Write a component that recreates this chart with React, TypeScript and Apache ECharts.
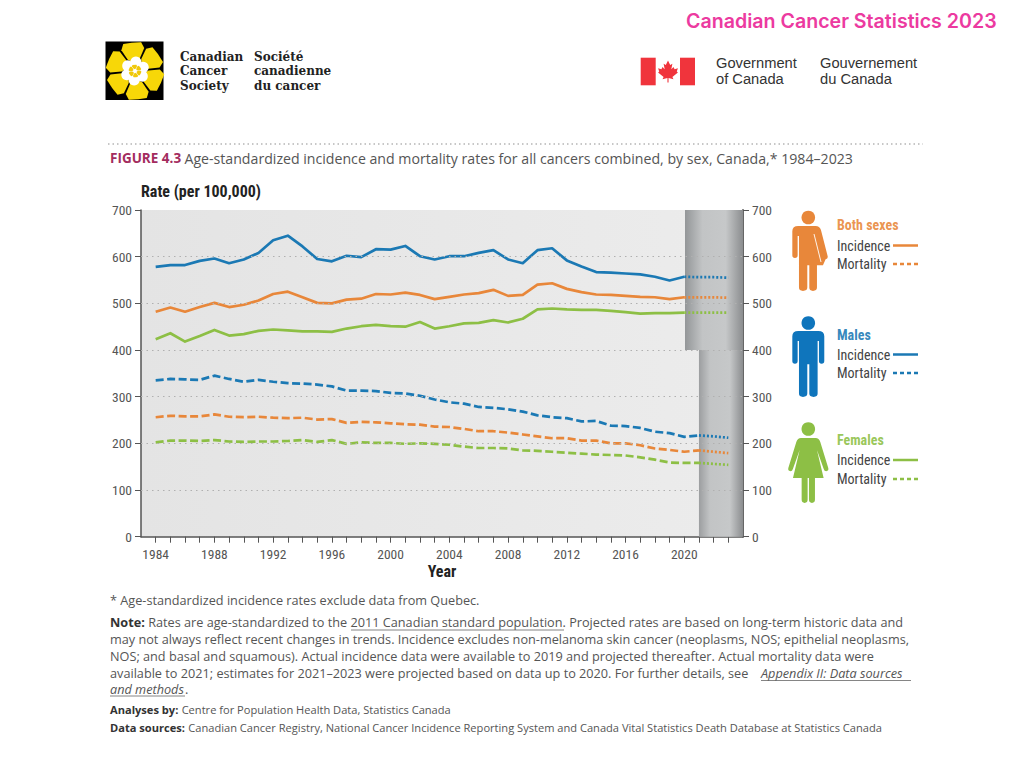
import React, { useEffect, useRef } from "react";
import * as echarts from "echarts";

const years = [1984,1985,1986,1987,1988,1989,1990,1991,1992,1993,1994,1995,1996,1997,1998,1999,2000,2001,2002,2003,2004,2005,2006,2007,2008,2009,2010,2011,2012,2013,2014,2015,2016,2017,2018,2019,2020,2021,2022,2023];
const labelYears = [1984,1988,1992,1996,2000,2004,2008,2012,2016,2020];
const yTicks = [0,100,200,300,400,500,600,700];
const gridValues = [100,200,300,400,500,600];

const bothIncidence = [482,491,482,492,501,492,497,506,520,525,513,501,500,508,510,520,519,523,518,509,514,519,522,529,516,518,540,543,531,524,519,518,516,514,513,509,513,513,513,512];
const maleIncidence = [578,582,582,591,596,586,594,608,635,645,622,595,590,602,599,616,615,623,601,594,601,601,608,614,594,586,614,618,592,579,567,566,564,562,557,549,557,556,556,555];
const femaleIncidence = [423,436,418,430,443,431,434,441,444,442,440,440,439,446,451,454,451,450,460,446,451,457,458,464,459,467,487,489,487,486,486,484,481,478,479,479,480,480,480,480];
const bothMortality = [256,259,258,258,262,257,256,257,255,254,255,251,252,244,246,245,243,241,240,236,235,231,226,226,223,219,215,211,211,206,206,200,200,196,189,186,182,185,182,179];
const maleMortality = [335,338,337,336,345,338,332,336,332,329,328,326,322,313,313,312,308,307,302,294,288,285,278,276,273,268,260,256,254,247,248,238,237,233,225,222,214,217,215,212];
const femaleMortality = [202,206,206,205,207,204,203,204,204,205,207,203,207,199,202,201,201,199,200,199,197,193,190,190,189,185,184,182,180,178,176,175,174,170,165,159,158,158,156,154];

const ORANGE = "#e8873a";
const BLUE = "#1b79b4";
const GREEN = "#8dbf45";
const NARROW = '"Roboto Condensed", "DejaVu Sans Condensed", sans-serif';
const BODY = '"Open Sans", "Noto Sans", sans-serif';
const TXT = "#555555";

const MALE = "M-30 0 H30 Q48 0 48 16 V90 Q48 98 40 98 Q32 98 32 90 V30 H28 V188 Q28 198 16 198 Q3 198 3 188 V100 H-3 V188 Q-3 198 -16 198 Q-28 198 -28 188 V30 H-32 V90 Q-32 98 -40 98 Q-48 98 -48 90 V16 Q-48 0 -30 0 Z";
const FEMALE = "M-22 0 H22 Q32 0 36 12 L60 90 Q62 98 54 100 Q48 100 46 92 L26 36 L46 120 H20 V185 Q20 195 11 195 Q2 195 2 185 V120 H-2 V185 Q-2 195 -11 195 Q-20 195 -20 185 V120 H-46 L-26 36 L-46 92 Q-48 100 -54 100 Q-62 98 -60 90 L-36 12 Q-32 0 -22 0 Z";
const BOTH = "M-30 0 H22 Q34 0 38 12 L58 90 Q60 98 52 100 L44 118 H26 V185 Q26 195 14 195 Q3 195 3 185 V118 H-3 V185 Q-3 195 -16 195 Q-28 195 -28 185 V30 H-32 V88 Q-32 96 -40 96 Q-48 96 -48 88 V16 Q-48 0 -30 0 Z";
const LEAF = "M0 -10 L-2 -6 L-4 -7 L-3 -2 L-5 -4 L-6 -2 L-9 -3 L-8 0 L-9 1 L-4 5 L-5 7 L-0.5 6 L-0.5 10 H0.5 L0.5 6 L5 7 L4 5 L9 1 L8 0 L9 -3 L6 -2 L5 -4 L3 -2 L4 -7 L2 -6 Z";
const PETAL = "M0 -8 L-6 -12 L-11.5 -22 L-9 -28 Q0 -29 9 -28 L11.5 -22 L6 -12 Z";

echarts.graphic.registerShape("maleIcon", echarts.graphic.extendPath(MALE, {}));
echarts.graphic.registerShape("femaleIcon", echarts.graphic.extendPath(FEMALE, {}));
echarts.graphic.registerShape("bothIcon", echarts.graphic.extendPath(BOTH, {}));
echarts.graphic.registerShape("leafIcon", echarts.graphic.extendPath(LEAF, {}));
echarts.graphic.registerShape("petalIcon", echarts.graphic.extendPath(PETAL, {}));

const grad = (stops: [number, string][]) =>
  new echarts.graphic.LinearGradient(0, 0, 1, 0, stops.map(([offset, color]) => ({ offset, color })));

const part = (vals: number[], from: number, to: number) =>
  years.map((y, i) => [y, vals[i]]).filter(([y]) => y >= from && y <= to);

const lineSeries = (name: string, vals: number[], color: string, split: number, dash: number[] | "solid") => [
  {
    name, type: "line", z: 4, symbol: "none", silent: true,
    data: part(vals, 1984, split),
    lineStyle: { color, width: 2.7, type: dash, cap: "butt", join: "round" },
  },
  {
    name: name + " (projected)", type: "line", z: 4, symbol: "none", silent: true,
    data: part(vals, split, 2023),
    lineStyle: { color, width: 2.7, type: [2, 2] },
  },
];

const txt = (text: string, x: number, y: number, extra: any = {}) => ({
  type: "text", silent: true,
  style: { text, x, y, verticalAlign: "middle", fill: TXT, font: `12.7px ${BODY}`, ...extra },
});
const bodyRich = (size: number) => ({
  b: { font: `bold ${size}px ${BODY}`, fill: "#333333" },
  n: { font: `${size}px ${BODY}`, fill: TXT },
});
const seg = (x1: number, y1: number, x2: number, y2: number, stroke: string, lineWidth: number, lineDash?: number[]) => ({
  type: "line", silent: true, shape: { x1, y1, x2, y2 }, style: { stroke, lineWidth, lineDash },
});
const legendBlock = (title: string, color: string, y1: number, y2: number, y3: number) => [
  txt(title, 837, y1, { fill: color, font: `bold 14px ${NARROW}`, opacity: 0.9 }),
  txt("Incidence", 837, y2, { fill: "#444", font: `14px ${NARROW}` }),
  txt("Mortality", 837, y3, { fill: "#444", font: `14px ${NARROW}` }),
  seg(893, y2, 918, y2, color, 2.5),
  seg(893, y3, 918, y3, color, 2.5, [4, 3]),
];
const petalAngles = [0, 1, 2, 3, 4, 5];

const graphics: any[] = [
  txt("Canadian Cancer Statistics 2023", 686, 21, { fill: "#ec3aa0", font: `600 19.6px Inter, ${BODY}` }),
  { type: "rect", silent: true, shape: { x: 105.5, y: 41.5, width: 58, height: 58.5 }, style: { fill: "#000" } },
  ...petalAngles.map((k) => ({
    type: "petalIcon", silent: true, x: 135, y: 71, rotation: (k * Math.PI) / 3 + 0.1, style: { fill: "#f7d708" },
  })),
  ...petalAngles.map((k) => ({
    type: "circle", silent: true,
    shape: { cx: 135 + 9 * Math.sin((k * Math.PI) / 3 + 0.1), cy: 71 - 9 * Math.cos((k * Math.PI) / 3 + 0.1), r: 5.5 },
    style: { fill: "#fff" },
  })),
  { type: "circle", silent: true, shape: { cx: 135, cy: 71, r: 10 }, style: { fill: "#fff" } },
  ...petalAngles.map((k) => ({
    type: "petalIcon", silent: true, x: 135, y: 71, scaleX: 0.22, scaleY: 0.22, rotation: (k * Math.PI) / 3 + 0.1, style: { fill: "#f0c808" },
  })),
  txt("Canadian\nCancer\nSociety", 180, 71, { fill: "#222", font: `bold 12px "DejaVu Serif", serif`, lineHeight: 14.5 }),
  txt("Société\ncanadienne\ndu cancer", 254, 71, { fill: "#222", font: `bold 12px "DejaVu Serif", serif`, lineHeight: 14.5 }),
  { type: "rect", silent: true, shape: { x: 640.7, y: 57.7, width: 15, height: 27.6 }, style: { fill: "#f0343c" } },
  { type: "rect", silent: true, shape: { x: 680, y: 57.7, width: 15, height: 27.6 }, style: { fill: "#f0343c" } },
  { type: "leafIcon", silent: true, x: 668, y: 71.5, scaleX: 1.1, scaleY: 1.1, style: { fill: "#f0343c" } },
  txt("Government\nof Canada", 716, 71, { fill: "#333", font: `14.7px "Liberation Sans", sans-serif`, lineHeight: 16 }),
  txt("Gouvernement\ndu Canada", 820, 71, { fill: "#333", font: `14.7px "Liberation Sans", sans-serif`, lineHeight: 16 }),
  seg(108, 144, 923, 144, "#b5b5b5", 1.5, [1.5, 3]),
  {
    type: "text", silent: true,
    style: {
      text: "{f|FIGURE 4.3} {n|Age-standardized incidence and mortality rates for all cancers combined, by sex, Canada,* 1984–2023}",
      x: 110, y: 158, verticalAlign: "middle",
      rich: {
        f: { font: `bold 13.5px ${BODY}`, fill: "#a32c5e" },
        n: { font: `14.15px ${BODY}`, fill: TXT },
      },
    },
  },
  {
    type: "text", silent: true, x: 722, y: 365, rotation: Math.PI / 2,
    style: { text: "Projected", x: 0, y: 0, align: "center", verticalAlign: "middle", fill: "#f2f2f2", font: `bold 13.5px "Liberation Sans", sans-serif` },
  },
  { type: "circle", silent: true, shape: { cx: 808.3, cy: 217.5, r: 6.8 }, style: { fill: ORANGE } },
  { type: "bothIcon", silent: true, x: 808.3, y: 226, scaleX: 1 / 3, scaleY: 1 / 3, style: { fill: ORANGE } },
  seg(814, 234, 821, 262, "#fff", 0.9),
  { type: "circle", silent: true, shape: { cx: 808.3, cy: 323, r: 6.8 }, style: { fill: "#0f75bc" } },
  { type: "maleIcon", silent: true, x: 808.3, y: 331, scaleX: 1 / 3, scaleY: 1 / 3, style: { fill: "#0f75bc" } },
  { type: "circle", silent: true, shape: { cx: 808.3, cy: 429, r: 6.8 }, style: { fill: GREEN } },
  { type: "femaleIcon", silent: true, x: 808.3, y: 438, scaleX: 1 / 3, scaleY: 1 / 3, style: { fill: GREEN } },
  ...legendBlock("Both sexes", ORANGE, 225, 245.5, 264),
  ...legendBlock("Males", BLUE, 335, 354.5, 373),
  ...legendBlock("Females", GREEN, 440, 460, 479),
  txt("* Age-standardized incidence rates exclude data from Quebec.", 110, 600),
  {
    type: "text", silent: true,
    style: {
      text: "{b|Note:} {n|Rates are age-standardized to the 2011 Canadian standard population. Projected rates are based on long-term historic data and}",
      x: 110, y: 622, verticalAlign: "middle", rich: bodyRich(12.7),
    },
  },
  txt("may not always reflect recent changes in trends. Incidence excludes non-melanoma skin cancer (neoplasms, NOS; epithelial neoplasms,", 110, 639),
  txt("NOS; and basal and squamous). Actual incidence data were available to 2019 and projected thereafter. Actual mortality data were", 110, 656),
  txt("available to 2021; estimates for 2021–2023 were projected based on data up to 2020. For further details, see", 110, 673),
  txt("Appendix II: Data sources", 761, 673, { font: `italic 12.7px ${BODY}` }),
  txt("and methods", 110, 689, { font: `italic 12.7px ${BODY}` }),
  txt(".", 185, 689),
  seg(351, 630, 564, 630, "#666", 0.8),
  seg(761, 680.5, 911, 680.5, "#666", 0.8),
  seg(110, 696, 185, 696, "#666", 0.8),
  {
    type: "text", silent: true,
    style: {
      text: "{b|Analyses by:} {n|Centre for Population Health Data, Statistics Canada}",
      x: 110, y: 709, verticalAlign: "middle", rich: bodyRich(11.1),
    },
  },
  {
    type: "text", silent: true,
    style: {
      text: "{b|Data sources:} {n|Canadian Cancer Registry, National Cancer Incidence Reporting System and Canada Vital Statistics Death Database at Statistics Canada}",
      x: 110, y: 727, verticalAlign: "middle", rich: bodyRich(11.1),
    },
  },
];

const axisFont = { fontFamily: NARROW, fontSize: 13.5, color: TXT };
const nameFont = { fontFamily: NARROW, fontSize: 16, fontWeight: "bold" as const, color: "#222" };

const option: any = {
  animation: false,
  backgroundColor: "#ffffff",
  grid: {
    show: true, left: 141, right: 281, top: 210, bottom: 231.3, borderWidth: 0,
    backgroundColor: grad([[0, "#e4e4e4"], [1, "#ececec"]]),
  },
  xAxis: {
    type: "value", min: 1983, max: 2024, name: "Year", nameLocation: "middle", nameGap: 27,
    nameTextStyle: nameFont,
    splitLine: { show: false },
    axisLine: { show: true, onZero: false, lineStyle: { color: "#555", width: 1.5 } },
    axisTick: { show: true, length: 6, customValues: years, lineStyle: { color: "#555", width: 1 } },
    axisLabel: { customValues: labelYears, formatter: (v: number) => String(v), margin: 10, ...axisFont },
  },
  yAxis: [
    {
      type: "value", min: 0, max: 700, interval: 100, name: "Rate (per 100,000)", nameLocation: "end", nameGap: 11,
      nameTextStyle: { ...nameFont, align: "left" },
      splitLine: { show: false },
      axisLine: { show: true, lineStyle: { color: "#555", width: 1.5 } },
      axisTick: { show: true, length: 6, lineStyle: { color: "#555", width: 1 } },
      axisLabel: { margin: 9, ...axisFont, customValues: yTicks },
    },
    {
      type: "value", min: 0, max: 700, interval: 100, position: "right",
      splitLine: { show: false },
      axisLine: { show: true, lineStyle: { color: "#666", width: 2 } },
      axisTick: { show: true, length: 6, lineStyle: { color: "#555", width: 1 } },
      axisLabel: { margin: 9, ...axisFont, customValues: yTicks },
    },
  ],
  series: [
    {
      name: "Projected band", type: "line", z: 1, data: [], silent: true,
      markArea: {
        silent: true,
        data: [
          [
            { xAxis: 2020.05, yAxis: 700, itemStyle: { color: grad([[0, "#939698"], [0.3, "#c2c4c5"], [0.7, "#c6c8c9"], [1, "#8b8d8f"]]) } },
            { xAxis: 2024, yAxis: 400 },
          ],
          [
            { xAxis: 2021, yAxis: 400, itemStyle: { color: grad([[0, "#9c9ea0"], [0.25, "#c2c4c5"], [0.7, "#c6c8c9"], [1, "#8b8d8f"]]) } },
            { xAxis: 2024, yAxis: 0 },
          ],
        ],
      },
    },
    {
      name: "Gridlines", type: "line", z: 2, data: [], silent: true,
      markLine: {
        silent: true, symbol: "none", label: { show: false },
        lineStyle: { color: "#b0b0b0", width: 1, type: [1.5, 4] },
        data: gridValues.map((v) => ({ yAxis: v })),
      },
    },
    ...lineSeries("Both sexes incidence", bothIncidence, ORANGE, 2020, "solid"),
    ...lineSeries("Males incidence", maleIncidence, BLUE, 2020, "solid"),
    ...lineSeries("Females incidence", femaleIncidence, GREEN, 2020, "solid"),
    ...lineSeries("Both sexes mortality", bothMortality, ORANGE, 2021, [8, 3.5]),
    ...lineSeries("Males mortality", maleMortality, BLUE, 2021, [8, 3.5]),
    ...lineSeries("Females mortality", femaleMortality, GREEN, 2021, [8, 3.5]),
  ],
  graphic: { elements: graphics },
};

export default function App() {
  const ref = useRef<HTMLDivElement>(null);
  useEffect(() => {
    const chart = echarts.init(ref.current!, undefined, { renderer: "svg" });
    chart.setOption(option);
    return () => chart.dispose();
  }, []);
  return <div ref={ref} style={{ position: "fixed", left: 0, top: 0, width: 1024, height: 768, background: "#fff" }} />;
}
